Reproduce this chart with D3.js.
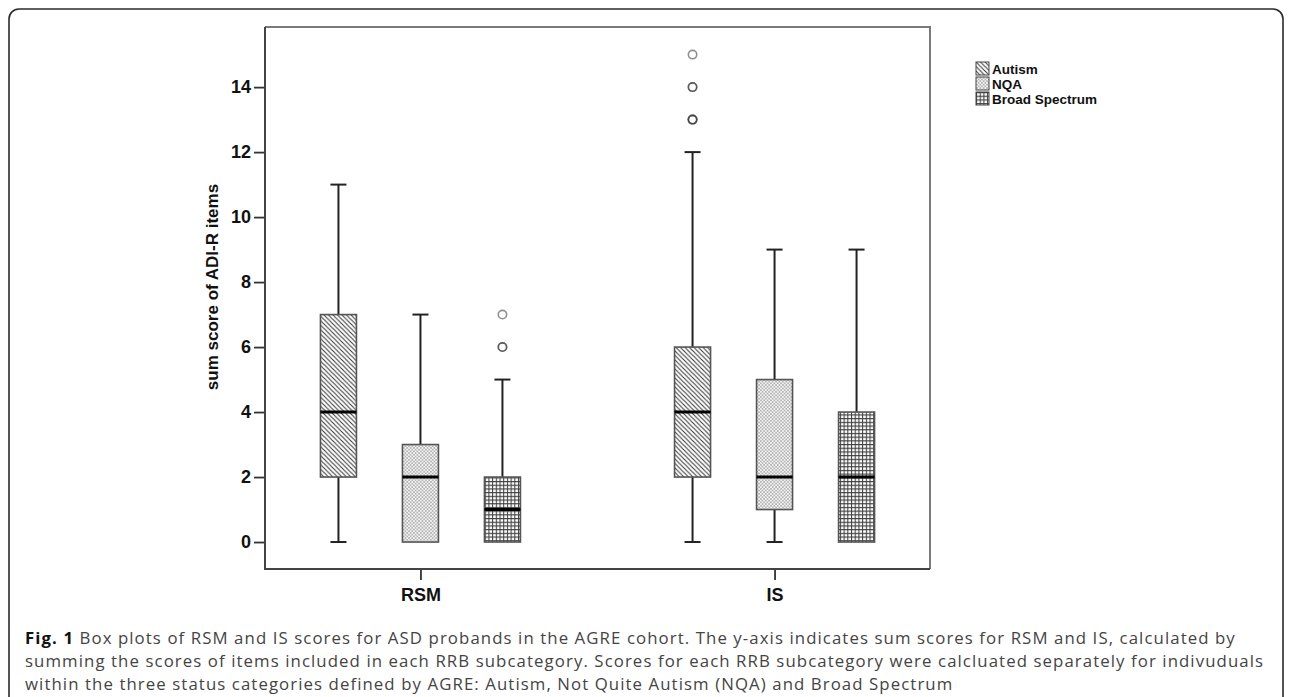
<!DOCTYPE html>
<html>
<head>
<meta charset="utf-8">
<script src="https://cdn.jsdelivr.net/npm/d3@7"></script>
<style>
  html, body { margin: 0; padding: 0; background: #fff; }
  svg { display: block; }
</style>
</head>
<body>
<svg id="chart" width="1292" height="697"></svg>
<script>
// ---- data ----
const categories = ["RSM", "IS"];
const groups = ["Autism", "NQA", "Broad Spectrum"];
// per category, per group: [whiskerLow, q1, median, q3, whiskerHigh]
const rsmStats = [[0, 2, 4, 7, 11], [0, 0, 2, 3, 7], [0, 0, 1, 2, 5]];
const isStats  = [[0, 2, 4, 6, 12], [0, 1, 2, 5, 9], [0, 0, 2, 4, 9]];
const rsmOutliers = [[], [], [6, 6, 7]];
const isOutliers  = [[13, 13, 13, 14, 14, 15], [], []];
const yTicks = [0, 2, 4, 6, 8, 10, 12, 14];
const yLabel = "sum score of ADI-R items";
const captionBold = "Fig. 1";
const captionLines = [
  " Box plots of RSM and IS scores for ASD probands in the AGRE cohort. The y-axis indicates sum scores for RSM and IS, calculated by",
  "summing the scores of items included in each RRB subcategory. Scores for each RRB subcategory were calcluated separately for indivuduals",
  "within the three status categories defined by AGRE: Autism, Not Quite Autism (NQA) and Broad Spectrum"
];

const stats = { RSM: rsmStats, IS: isStats };
const outliers = { RSM: rsmOutliers, IS: isOutliers };

const svg = d3.select("#chart");

// ---- outer rounded frame ----
svg.append("rect")
  .attr("x", 9).attr("y", 9).attr("width", 1274).attr("height", 720)
  .attr("rx", 10).attr("ry", 10)
  .attr("fill", "none").attr("stroke", "#2b2b2b").attr("stroke-width", 1.6);

// ---- patterns ----
const defs = svg.append("defs");
const pA = defs.append("pattern").attr("id", "pat-autism")
  .attr("patternUnits", "userSpaceOnUse").attr("width", 4.5).attr("height", 4.5);
pA.append("rect").attr("width", 4.5).attr("height", 4.5).attr("fill", "#fff");
pA.append("path").attr("d", "M-1,-1 L5.5,5.5 M-3.25,1.25 L1.25,5.75 M1.25,-3.25 L5.75,1.25")
  .attr("stroke", "#3a3a3a").attr("stroke-width", 1.1);

const pN = defs.append("pattern").attr("id", "pat-nqa")
  .attr("patternUnits", "userSpaceOnUse").attr("width", 3.4).attr("height", 3.4);
pN.append("rect").attr("width", 3.4).attr("height", 3.4).attr("fill", "#f4f4f4");
pN.append("rect").attr("x", 0).attr("y", 0).attr("width", 1.7).attr("height", 1.7).attr("fill", "#b4b4b4");
pN.append("rect").attr("x", 1.7).attr("y", 1.7).attr("width", 1.7).attr("height", 1.7).attr("fill", "#b4b4b4");

const pB = defs.append("pattern").attr("id", "pat-bs")
  .attr("patternUnits", "userSpaceOnUse").attr("width", 3.7).attr("height", 3.7);
pB.append("rect").attr("width", 3.7).attr("height", 3.7).attr("fill", "#fff");
pB.append("path").attr("d", "M0,0.5 H3.7 M0.5,0 V3.7")
  .attr("stroke", "#404040").attr("stroke-width", 1.1);

const fills = ["url(#pat-autism)", "url(#pat-nqa)", "url(#pat-bs)"];

// ---- scales ----
const frame = { left: 265, right: 930, top: 27, bottom: 569 };
const y = d3.scaleLinear().domain([-0.83, 15.85]).range([frame.bottom, frame.top]);
const x = d3.scalePoint().domain(categories).range([frame.left, frame.right]).padding(0.439);
const sub = d3.scalePoint().domain(groups).range([-82, 82]);
const boxW = 36, capW = 16;

// ---- plot frame ----
svg.append("path")
  .attr("d", `M${frame.left},${frame.top} H${frame.right} V${frame.bottom}`)
  .attr("fill", "none").attr("stroke", "#7a7a7a").attr("stroke-width", 2);

// y axis
const yAxis = svg.append("g").attr("transform", `translate(${frame.left},0)`)
  .call(d3.axisLeft(y).tickValues(yTicks).tickSize(11).tickPadding(3).tickSizeOuter(0));
yAxis.select(".domain").remove();
yAxis.selectAll(".tick line").attr("stroke", "#333").attr("stroke-width", 1.8);
yAxis.selectAll(".tick text")
  .attr("font-family", "Liberation Sans, Arial, sans-serif")
  .attr("font-size", 18).attr("font-weight", "bold").attr("fill", "#111");

// x axis
const xAxis = svg.append("g").attr("transform", `translate(0,${frame.bottom})`)
  .call(d3.axisBottom(x).tickSize(11).tickPadding(8).tickSizeOuter(0));
xAxis.select(".domain").remove();
xAxis.selectAll(".tick line").attr("stroke", "#333").attr("stroke-width", 1.8);
xAxis.selectAll(".tick text")
  .attr("font-family", "Liberation Sans, Arial, sans-serif")
  .attr("font-size", 18).attr("font-weight", "bold").attr("fill", "#111");

// axis lines (left & bottom, dark)
svg.append("path")
  .attr("d", `M${frame.left},${frame.top} V${frame.bottom} H${frame.right}`)
  .attr("fill", "none").attr("stroke", "#444").attr("stroke-width", 2);

// y label
svg.append("text")
  .attr("transform", `translate(218,287) rotate(-90)`)
  .attr("text-anchor", "middle")
  .attr("font-family", "Liberation Sans, Arial, sans-serif")
  .attr("font-size", 17).attr("font-weight", "bold").attr("fill", "#111")
  .text(yLabel);

// ---- boxes ----
categories.forEach(cat => {
  stats[cat].forEach((s, gi) => {
    const cx = x(cat) + sub(groups[gi]);
    const [lo, q1, med, q3, hi] = s;
    const g = svg.append("g");
    if (hi > q3) {
      g.append("line").attr("x1", cx).attr("x2", cx).attr("y1", y(q3)).attr("y2", y(hi))
        .attr("stroke", "#222").attr("stroke-width", 2);
      g.append("line").attr("x1", cx - capW / 2).attr("x2", cx + capW / 2).attr("y1", y(hi)).attr("y2", y(hi))
        .attr("stroke", "#222").attr("stroke-width", 2);
    }
    if (lo < q1) {
      g.append("line").attr("x1", cx).attr("x2", cx).attr("y1", y(q1)).attr("y2", y(lo))
        .attr("stroke", "#222").attr("stroke-width", 2);
      g.append("line").attr("x1", cx - capW / 2).attr("x2", cx + capW / 2).attr("y1", y(lo)).attr("y2", y(lo))
        .attr("stroke", "#222").attr("stroke-width", 2);
    }
    g.append("rect")
      .attr("x", cx - boxW / 2).attr("width", boxW)
      .attr("y", y(q3)).attr("height", y(q1) - y(q3))
      .attr("fill", fills[gi]).attr("stroke", "#555").attr("stroke-width", 1.6);
    g.append("line").attr("x1", cx - boxW / 2).attr("x2", cx + boxW / 2)
      .attr("y1", y(med)).attr("y2", y(med))
      .attr("stroke", "#000").attr("stroke-width", 3);
    g.selectAll("circle").data(outliers[cat][gi]).join("circle")
      .attr("cx", cx).attr("cy", d => y(d)).attr("r", 4.2)
      .attr("fill", "none").attr("stroke", "#333").attr("stroke-opacity", 0.55)
      .attr("stroke-width", 1.6);
  });
});

// ---- legend ----
const legend = svg.append("g").attr("transform", "translate(976,62)");
groups.forEach((gname, i) => {
  const row = legend.append("g").attr("transform", `translate(0,${i * 15})`);
  row.append("rect").attr("width", 13).attr("height", 13)
    .attr("fill", fills[i]).attr("stroke", "#444").attr("stroke-width", 1);
  row.append("text").attr("x", 16).attr("y", 11.5)
    .attr("font-family", "Liberation Sans, Arial, sans-serif")
    .attr("font-size", 13.5).attr("font-weight", "bold").attr("fill", "#111")
    .text(gname);
});

// ---- caption ----
const cap = svg.append("g").attr("font-family", "Open Sans, sans-serif");
const lineYs = [644, 667, 690];
const fs = 16.8;
const t1 = cap.append("text").attr("x", 25).attr("y", lineYs[0]).attr("font-size", fs).attr("fill", "#444");
t1.append("tspan").attr("font-weight", "bold").attr("fill", "#111").text(captionBold);
t1.append("tspan").text(captionLines[0]);
const t2 = cap.append("text").attr("x", 25).attr("y", lineYs[1]).attr("font-size", fs).attr("fill", "#444").text(captionLines[1]);
const t3 = cap.append("text").attr("x", 25).attr("y", lineYs[2]).attr("font-size", fs).attr("fill", "#444").text(captionLines[2]);
// widen letter spacing so line 2 spans the same width as in the reference
const w2 = t2.node().getComputedTextLength();
const ls = (1238 - w2) / (captionLines[1].length - 1);
[t1, t2, t3].forEach(t => t.attr("letter-spacing", ls));
</script>
</body>
</html>
